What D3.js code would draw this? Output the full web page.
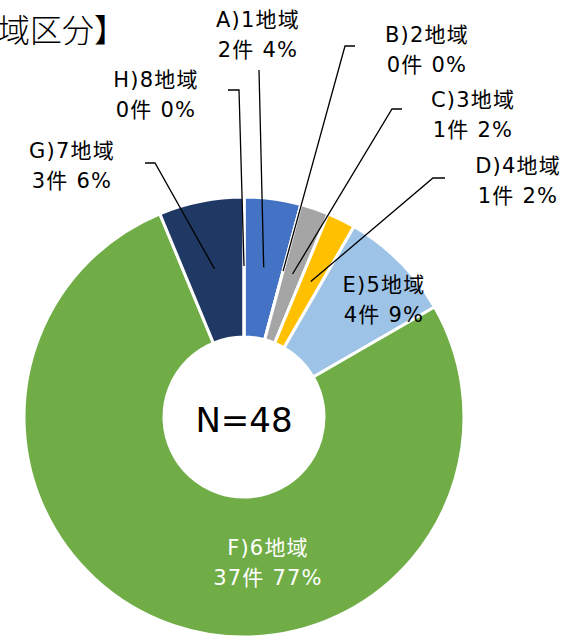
<!DOCTYPE html>
<html>
<head>
<meta charset="utf-8">
<script src="https://cdn.jsdelivr.net/npm/d3@7"></script>
<style>
  html, body { margin: 0; padding: 0; background: #fff; }
  svg { display: block; }
  text { font-family: "DejaVu Sans", "Noto Sans CJK JP", sans-serif; }
</style>
</head>
<body>
<svg id="chart" width="583" height="641"></svg>
<script>
// === Data ===
const categories = ['A)1地域', 'B)2地域', 'C)3地域', 'D)4地域', 'E)5地域', 'F)6地域', 'G)7地域', 'H)8地域'];
const counts     = [2, 0, 1, 1, 4, 37, 3, 0];
const percents   = ['4%', '0%', '2%', '2%', '9%', '77%', '6%', '0%'];
const colors     = ['#4472C4', '#7F7F7F', '#A5A5A5', '#FFC000', '#9DC3E6', '#70AD47', '#203864', '#5B9BD5'];
const total = d3.sum(counts);

// === Layout ===
const cx = 244, cy = 417;
const R_OUT = 220, R_IN = 80, R_LEAD = 151;

// label centres (x, first-line baseline), by category index
const labelPos = {
  0: { x: 258, y: 27, fill: '#000' },
  1: { x: 427, y: 42, fill: '#000' },
  2: { x: 473, y: 107, fill: '#000' },
  3: { x: 518, y: 173, fill: '#000' },
  4: { x: 384, y: 292, fill: '#000' },
  5: { x: 268, y: 555, fill: '#fff' },
  6: { x: 72,  y: 158, fill: '#000' },
  7: { x: 156, y: 87,  fill: '#000' }
};
// leader line start + elbow (end is computed from the slice)
const leaders = {
  0: [[259, 70]],
  1: [[355, 46], [345, 46]],
  2: [[402, 109], [392, 109]],
  3: [[445, 178], [433, 178]],
  6: [[145, 163], [155, 163]],
  7: [[228, 90], [239, 90]]
};

const svg = d3.select('#chart');

// title (cut off at the left edge, as in the source image)
svg.append('text')
  .attr('x', 126).attr('y', 42)
  .attr('text-anchor', 'end')
  .attr('font-family', '"Noto Sans CJK JP", sans-serif')
  .attr('font-size', 32)
  .attr('font-weight', 300)
  .attr('fill', '#000')
  .text('【地域区分】');

const pie = d3.pie().sort(null).value(d => d)(counts);
const arc = d3.arc().innerRadius(R_IN).outerRadius(R_OUT);

const g = svg.append('g').attr('transform', `translate(${cx},${cy})`);

g.selectAll('path.slice')
  .data(pie)
  .join('path')
  .attr('class', 'slice')
  .attr('d', arc)
  .attr('fill', (d, i) => colors[i])
  .attr('stroke', '#fff')
  .attr('stroke-width', 3)
  .attr('stroke-linejoin', 'miter');

// leader lines
pie.forEach((d, i) => {
  if (!leaders[i]) return;
  const mid = (d.startAngle + d.endAngle) / 2;
  const end = [cx + R_LEAD * Math.sin(mid), cy - R_LEAD * Math.cos(mid)];
  svg.append('path')
    .attr('d', d3.line()(leaders[i].concat([end])))
    .attr('fill', 'none')
    .attr('stroke', '#000')
    .attr('stroke-width', 1.3);
});

// labels
categories.forEach((c, i) => {
  const p = labelPos[i];
  const t = svg.append('text')
    .attr('text-anchor', 'middle')
    .attr('font-size', 21)
    .attr('letter-spacing', 1.2)
    .attr('fill', p.fill);
  t.append('tspan').attr('x', p.x).attr('y', p.y).text(c);
  t.append('tspan').attr('x', p.x).attr('y', p.y + 30).text(`${counts[i]}件 ${percents[i]}`);
});

// centre total
svg.append('text')
  .attr('x', cx).attr('y', cy + 15)
  .attr('text-anchor', 'middle')
  .attr('font-size', 34)
  .attr('fill', '#000')
  .text(`N=${total}`);
</script>
</body>
</html>
